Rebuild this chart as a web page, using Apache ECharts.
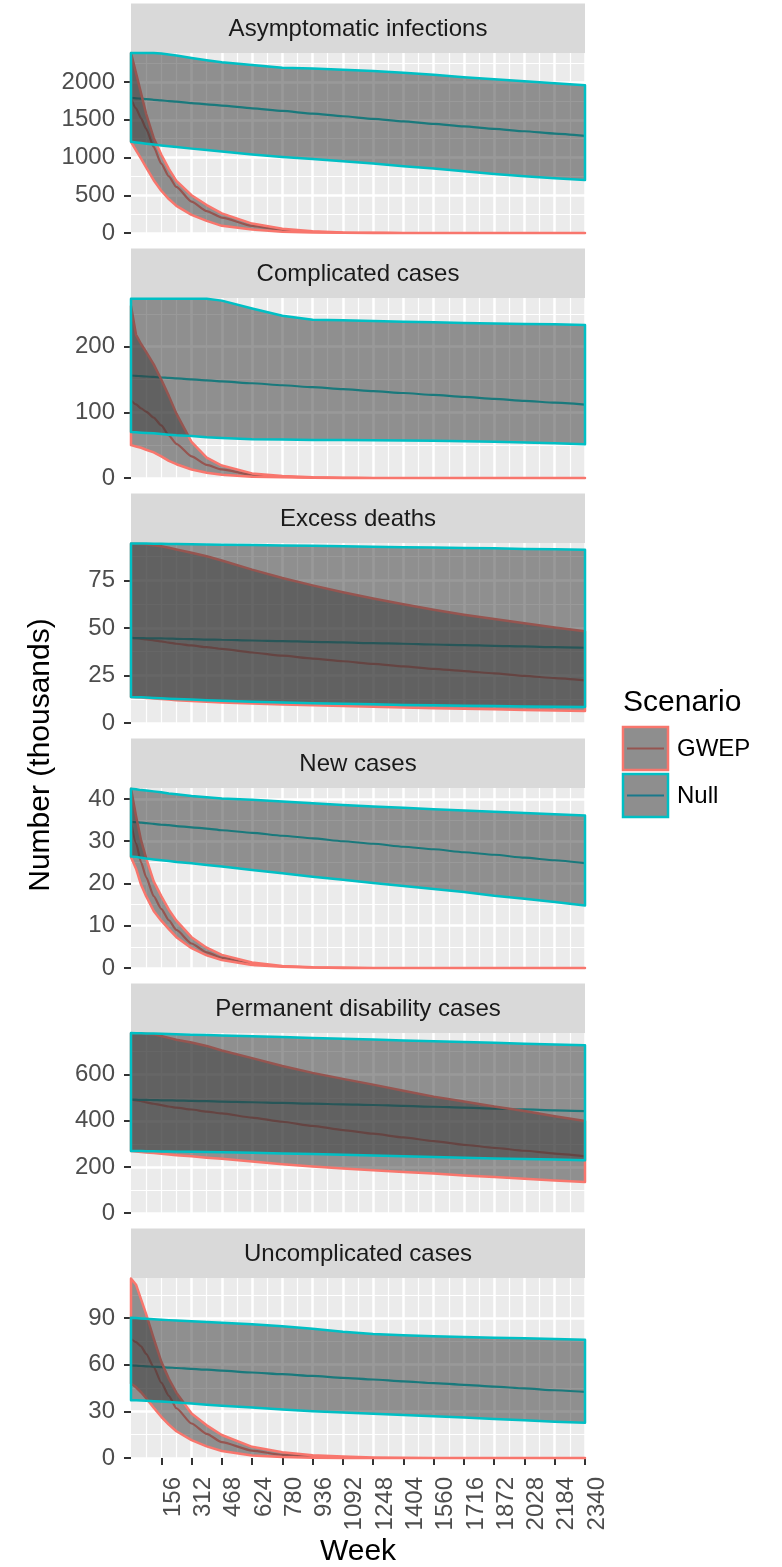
<!DOCTYPE html>
<html>
<head>
<meta charset="utf-8">
<script src="https://cdn.jsdelivr.net/npm/echarts@6/dist/echarts.min.js"></script>
<style>
  html, body { margin: 0; padding: 0; background: #fff; }
  #chart { width: 782px; height: 1567px; }
</style>
</head>
<body>
<div id="chart"></div>
<script>
// weeks sampled along the x axis
var weeks = [0, 26, 52, 78, 117, 156, 195, 234, 312, 390, 468, 624, 780, 936, 1092, 1248, 1404, 1560, 1716, 1872, 2028, 2184, 2340];
var weekTicks = [156, 312, 468, 624, 780, 936, 1092, 1248, 1404, 1560, 1716, 1872, 2028, 2184, 2340];

var panelTitles = ['Asymptomatic infections', 'Complicated cases', 'Excess deaths', 'New cases', 'Permanent disability cases', 'Uncomplicated cases'];
var yMax = [2385, 274, 94.7, 42.6, 781, 115.8];
var yStep = [500, 100, 25, 10, 200, 30];
var scenarios = ['GWEP', 'Null'];

// Asymptomatic infections
var asympGwepLow  = [1208, 1095, 985, 870, 700, 560, 450, 360, 240, 160, 95, 45, 18, 6, 2, 0, 0, 0, 0, 0, 0, 0, 0];
var asympGwepMid  = [1782, 1650, 1520, 1380, 1140, 920, 750, 610, 415, 290, 205, 95, 40, 15, 5, 2, 0, 0, 0, 0, 0, 0, 0];
var asympGwepHigh = [2385, 2120, 1850, 1580, 1260, 1040, 850, 690, 500, 370, 260, 125, 55, 22, 8, 3, 1, 0, 0, 0, 0, 0, 0];
var asympNullLow  = [1208, 1200, 1192, 1184, 1172, 1160, 1148, 1138, 1118, 1100, 1080, 1040, 1008, 982, 952, 920, 886, 855, 818, 782, 752, 726, 701];
var asympNullMid  = [1790, 1785, 1780, 1774, 1765, 1756, 1748, 1740, 1722, 1705, 1688, 1652, 1617, 1582, 1547, 1512, 1478, 1445, 1412, 1380, 1348, 1317, 1287];
var asympNullHigh = [2385, 2385, 2385, 2385, 2385, 2378, 2366, 2352, 2320, 2290, 2262, 2225, 2190, 2178, 2163, 2145, 2122, 2098, 2065, 2037, 2010, 1985, 1958];

// Complicated cases
var compGwepLow  = [50, 48, 46, 43, 39, 33, 26, 21, 13, 8, 5, 2, 1, 0.3, 0, 0, 0, 0, 0, 0, 0, 0, 0];
var compGwepMid  = [118, 112, 106, 101, 92, 80, 65, 52, 33, 20, 13, 5, 2, 0.8, 0.3, 0, 0, 0, 0, 0, 0, 0, 0];
var compGwepHigh = [262, 218, 204, 192, 173, 150, 125, 98, 55, 31, 19, 7, 3, 1, 0.5, 0, 0, 0, 0, 0, 0, 0, 0];
var compNullLow  = [70, 69.5, 69, 68.5, 68, 67, 66, 65, 64, 62, 61, 59, 58.5, 58, 57.7, 57.3, 57, 56.8, 56, 55, 54, 52.8, 51.5];
var compNullMid  = [156, 155.5, 155, 154.5, 153.8, 153, 152.3, 151.6, 150.1, 148.6, 147.1, 144.2, 141.2, 138.2, 135.3, 132.3, 129.4, 126.4, 123.4, 120.5, 117.5, 114.6, 111.6];
var compNullHigh = [273, 273, 273, 273, 273, 273, 273, 273, 273, 273, 270, 258, 247, 241, 240, 239, 238, 237, 236, 235, 234.5, 234, 233];

// Excess deaths
var deathGwepLow  = [13.7, 13.6, 13.4, 13.2, 12.9, 12.6, 12.3, 12.0, 11.6, 11.2, 10.8, 10.2, 9.7, 9.3, 8.9, 8.5, 8.1, 7.8, 7.5, 7.2, 6.9, 6.6, 6.3];
var deathGwepMid  = [44.8, 44.6, 44.3, 44.0, 43.5, 42.9, 42.3, 41.7, 40.8, 39.9, 39.0, 37.1, 35.4, 33.9, 32.5, 31.1, 29.8, 28.5, 27.3, 26.1, 24.8, 23.6, 22.4];
var deathGwepHigh = [94.3, 94.3, 94.2, 94.0, 93.5, 93.0, 92.2, 91.3, 89.6, 87.7, 85.5, 80.7, 76.3, 72.4, 68.8, 65.5, 62.5, 59.6, 57.0, 54.7, 52.5, 50.3, 48.3];
var deathNullLow  = [13.7, 13.6, 13.5, 13.4, 13.2, 13.0, 12.8, 12.6, 12.3, 12.0, 11.7, 11.2, 10.8, 10.4, 10.1, 9.8, 9.5, 9.3, 9.1, 8.9, 8.7, 8.5, 8.4];
var deathNullMid  = [44.8, 44.7, 44.7, 44.6, 44.5, 44.5, 44.4, 44.3, 44.1, 43.9, 43.8, 43.4, 43.1, 42.7, 42.4, 42.0, 41.7, 41.3, 41.0, 40.6, 40.3, 39.9, 39.6];
var deathNullHigh = [94.5, 94.5, 94.4, 94.4, 94.3, 94.3, 94.2, 94.2, 94.1, 93.9, 93.8, 93.6, 93.4, 93.2, 93.0, 92.7, 92.5, 92.3, 92.1, 91.9, 91.6, 91.4, 91.2];

// New cases
var newGwepLow  = [26.2, 23.5, 19.7, 17, 13.5, 11.2, 9.2, 7.3, 4.7, 3.0, 1.9, 0.7, 0.3, 0.1, 0, 0, 0, 0, 0, 0, 0, 0, 0];
var newGwepMid  = [34.6, 29.5, 25, 21.5, 17, 14, 11.3, 9.0, 5.8, 3.7, 2.4, 0.9, 0.4, 0.15, 0, 0, 0, 0, 0, 0, 0, 0, 0];
var newGwepHigh = [42.4, 36, 30.2, 26, 20.5, 17, 13.8, 11.2, 7.3, 4.8, 3.1, 1.3, 0.5, 0.2, 0.1, 0, 0, 0, 0, 0, 0, 0, 0];
var newNullLow  = [26.4, 26.3, 26.1, 25.9, 25.7, 25.5, 25.3, 25.1, 24.8, 24.4, 24.0, 23.2, 22.4, 21.6, 20.9, 20.1, 19.4, 18.7, 18.0, 17.1, 16.4, 15.6, 14.8];
var newNullMid  = [34.6, 34.5, 34.4, 34.3, 34.1, 33.9, 33.8, 33.6, 33.3, 33.0, 32.6, 32.0, 31.3, 30.7, 30.0, 29.4, 28.7, 28.1, 27.4, 26.8, 26.1, 25.5, 24.8];
var newNullHigh = [42.4, 42.3, 42.1, 42.0, 41.8, 41.6, 41.3, 41.1, 40.7, 40.4, 40.1, 39.8, 39.4, 39.0, 38.6, 38.2, 37.9, 37.6, 37.3, 37.0, 36.7, 36.4, 36.1];

// Permanent disability cases
var disGwepLow  = [269, 267, 265, 263, 260, 257, 254, 251, 246, 240, 235, 223, 212, 202, 193, 185, 178, 171, 163, 156, 149, 141, 134.5];
var disGwepMid  = [492, 489, 485, 480, 474, 468, 462, 457, 449, 440, 432, 414, 396, 378, 360, 344, 328, 312, 296, 283, 270, 258, 246];
var disGwepHigh = [780, 780, 779, 778, 775, 768, 760, 752, 740, 725, 705, 672, 638, 608, 582, 557, 530, 505, 484, 462, 443, 420, 399];
var disNullLow  = [269, 268.8, 268.5, 268.2, 267.8, 267.3, 266.8, 266.3, 265.3, 264.3, 263.2, 261, 258.5, 255.5, 252.5, 249.5, 246.5, 243, 240, 237, 234.5, 231.8, 229];
var disNullMid  = [492, 491.5, 491, 490.5, 490, 489, 488.5, 488, 486.5, 485, 483.5, 480.5, 477.5, 474.5, 471.5, 468.5, 465, 461, 457, 453, 449.5, 445.5, 442];
var disNullHigh = [781, 780.4, 779.8, 779.2, 778.3, 777.4, 776.5, 775.6, 773.9, 772.1, 770.3, 766.7, 763.2, 759.6, 756.0, 752.5, 748.9, 745.3, 741.8, 738.2, 734.6, 731.1, 727.5];

// Uncomplicated cases
var uncGwepLow  = [47.9, 45.5, 42.3, 38.4, 32.3, 26.5, 21.5, 17.2, 11.5, 7.5, 4.5, 1.6, 0.6, 0.2, 0, 0, 0, 0, 0, 0, 0, 0, 0];
var uncGwepMid  = [76.7, 74.5, 71.8, 67, 58.5, 48.5, 40, 32, 22.2, 15.5, 10.2, 4.8, 2, 0.8, 0.3, 0, 0, 0, 0, 0, 0, 0, 0];
var uncGwepHigh = [115.5, 111.5, 102, 92.5, 77, 62, 51, 42, 28.6, 21, 14.8, 7.2, 3.7, 1.8, 0.9, 0.4, 0.2, 0, 0, 0, 0, 0, 0];
var uncNullLow  = [37.2, 37.1, 37.0, 36.8, 36.5, 36.3, 36.1, 35.7, 35.0, 34.3, 33.6, 32.5, 31.2, 30.1, 29.2, 28.4, 27.6, 26.9, 26.0, 25.1, 24.3, 23.4, 22.6];
var uncNullMid  = [59.6, 59.4, 59.2, 59.0, 58.7, 58.5, 58.2, 57.9, 57.3, 56.8, 56.2, 55.0, 53.9, 52.8, 51.6, 50.5, 49.3, 48.2, 47.1, 45.9, 44.8, 43.6, 42.5];
var uncNullHigh = [90.2, 90.0, 89.8, 89.6, 89.3, 89.0, 88.7, 88.4, 87.9, 87.5, 87.0, 86.0, 84.8, 83.2, 81.2, 79.8, 79.0, 78.4, 77.9, 77.4, 77.0, 76.5, 76.1];

var panelData = [
    {GWEP: [asympGwepLow, asympGwepMid, asympGwepHigh], Null: [asympNullLow, asympNullMid, asympNullHigh]},
    {GWEP: [compGwepLow, compGwepMid, compGwepHigh], Null: [compNullLow, compNullMid, compNullHigh]},
    {GWEP: [deathGwepLow, deathGwepMid, deathGwepHigh], Null: [deathNullLow, deathNullMid, deathNullHigh]},
    {GWEP: [newGwepLow, newGwepMid, newGwepHigh], Null: [newNullLow, newNullMid, newNullHigh]},
    {GWEP: [disGwepLow, disGwepMid, disGwepHigh], Null: [disNullLow, disNullMid, disNullHigh]},
    {GWEP: [uncGwepLow, uncGwepMid, uncGwepHigh], Null: [uncNullLow, uncNullMid, uncNullHigh]}
];

var colors = {GWEP: '#F8766D', Null: '#00BFC4'};
var FONT = '"Liberation Sans", Arial, sans-serif';

// layout (note: no global named "top", it clashes with window.top)
var plotLeft = 131, plotWidth = 454, plotHeight = 180, firstTop = 53, pitch = 245, stripHeight = 49.5;

var grids = [], xAxes = [], yAxes = [], series = [], graphics = [];

function ribbonRenderer(lo, hi, color) {
    return function (params, api) {
        if (params.dataIndex !== 0) {
            return null;
        }
        var pts = [];
        for (var j = 0; j < weeks.length; j++) {
            pts.push(api.coord([weeks[j], hi[j]]));
        }
        for (var k = weeks.length - 1; k >= 0; k--) {
            pts.push(api.coord([weeks[k], lo[k]]));
        }
        return {
            type: 'polygon',
            shape: {points: pts},
            style: {fill: 'rgba(51,51,51,0.5)', stroke: color, lineWidth: 2.5, lineJoin: 'round'}
        };
    };
}

function buildPanel(i) {
    var panelTop = firstTop + i * pitch;
    var isLast = i === panelTitles.length - 1;
    grids.push({
        left: plotLeft, top: panelTop, width: plotWidth, height: plotHeight,
        show: true, backgroundColor: '#EBEBEB', borderWidth: 0
    });

    // major x
    xAxes.push({
        gridIndex: i, type: 'value', min: 0, max: 2340, interval: 156,
        axisLine: {show: false},
        axisTick: {show: isLast, customValues: weekTicks, length: 7, lineStyle: {color: '#333', width: 2}},
        axisLabel: {
            show: isLast, customValues: weekTicks, rotate: 90,
            verticalAlign: 'top', margin: 19, fontSize: 24, fontFamily: FONT, color: '#4D4D4D',
            formatter: function (v) { return String(v); }
        },
        splitLine: {show: true, showMinLine: false, lineStyle: {color: '#FFFFFF', width: 2.5}}
    });
    // minor x
    xAxes.push({
        gridIndex: i, type: 'value', min: 0, max: 2340, interval: 78,
        axisLine: {show: false}, axisTick: {show: false}, axisLabel: {show: false},
        splitLine: {show: true, showMinLine: false, lineStyle: {color: '#FFFFFF', width: 1.2}}
    });
    // major y
    yAxes.push({
        gridIndex: i, type: 'value', min: 0, max: yMax[i], interval: yStep[i],
        axisLine: {show: false},
        axisTick: {show: true, length: 7, lineStyle: {color: '#333', width: 2}},
        axisLabel: {
            showMaxLabel: false, margin: 16, fontSize: 24, fontFamily: FONT, color: '#4D4D4D',
            formatter: function (v) { return String(v); }
        },
        splitLine: {show: true, showMaxLine: false, lineStyle: {color: '#FFFFFF', width: 2.5}}
    });
    // minor y
    yAxes.push({
        gridIndex: i, type: 'value', min: 0, max: yMax[i], interval: yStep[i] / 2,
        axisLine: {show: false}, axisTick: {show: false}, axisLabel: {show: false},
        splitLine: {show: true, showMinLine: false, showMaxLine: false, lineStyle: {color: '#FFFFFF', width: 1.2}}
    });

    // mean lines sit below the ribbons (z 2 vs 3), so the ribbon fill tints them
    scenarios.forEach(function (s) {
        var mid = panelData[i][s][1];
        series.push({
            type: 'line', name: s, xAxisIndex: 2 * i, yAxisIndex: 2 * i, z: 2,
            data: weeks.map(function (w, j) { return [w, mid[j]]; }),
            showSymbol: false, smooth: 0.2, smoothMonotone: 'x',
            lineStyle: {color: colors[s], width: 2.2}, itemStyle: {color: colors[s]},
            silent: true
        });
    });
    scenarios.forEach(function (s) {
        var lo = panelData[i][s][0], hi = panelData[i][s][2];
        series.push({
            type: 'custom', name: s, xAxisIndex: 2 * i, yAxisIndex: 2 * i, z: 3,
            data: weeks.map(function (w, j) { return [w, lo[j], hi[j]]; }),
            encode: {x: 0, y: [1, 2]},
            renderItem: ribbonRenderer(lo, hi, colors[s]),
            clip: false, silent: true
        });
    });

    // facet strip
    graphics.push({
        type: 'rect', shape: {x: plotLeft, y: panelTop - stripHeight, width: plotWidth, height: stripHeight},
        style: {fill: '#D9D9D9'}, silent: true
    });
    graphics.push({
        type: 'text', x: plotLeft + plotWidth / 2, y: panelTop - stripHeight / 2 + 1,
        style: {text: panelTitles[i], fill: '#1A1A1A', fontSize: 24, fontFamily: FONT, align: 'center', verticalAlign: 'middle'},
        silent: true
    });
}

for (var p = 0; p < panelTitles.length; p++) {
    buildPanel(p);
}

// axis titles
graphics.push({
    type: 'text', x: plotLeft + plotWidth / 2, y: 1552,
    style: {text: 'Week', fill: '#000', fontSize: 30, fontFamily: FONT, align: 'center', verticalAlign: 'middle'}
});
graphics.push({
    type: 'text', x: 41, y: 755, rotation: Math.PI / 2,
    style: {text: 'Number (thousands)', fill: '#000', fontSize: 30, fontFamily: FONT, align: 'center', verticalAlign: 'middle'}
});

// legend
var legendMid = {GWEP: '#955450', Null: '#19798B'};
graphics.push({
    type: 'text', x: 623, y: 703,
    style: {text: 'Scenario', fill: '#000', fontSize: 30, fontFamily: FONT, align: 'left', verticalAlign: 'middle'}
});
scenarios.forEach(function (s, k) {
    var ky = 727 + k * 47;
    graphics.push({
        type: 'rect', shape: {x: 623, y: ky, width: 45, height: 43},
        style: {fill: '#8E8E8E', stroke: colors[s], lineWidth: 2.5}
    });
    graphics.push({
        type: 'line', shape: {x1: 627, y1: ky + 21.5, x2: 664, y2: ky + 21.5},
        style: {stroke: legendMid[s], lineWidth: 2}
    });
    graphics.push({
        type: 'text', x: 677, y: ky + 22,
        style: {text: s, fill: '#000', fontSize: 24, fontFamily: FONT, align: 'left', verticalAlign: 'middle'}
    });
});

var chart = echarts.init(document.getElementById('chart'));
chart.setOption({
    animation: false,
    backgroundColor: '#FFFFFF',
    grid: grids,
    xAxis: xAxes,
    yAxis: yAxes,
    series: series,
    graphic: graphics
});
</script>
</body>
</html>
